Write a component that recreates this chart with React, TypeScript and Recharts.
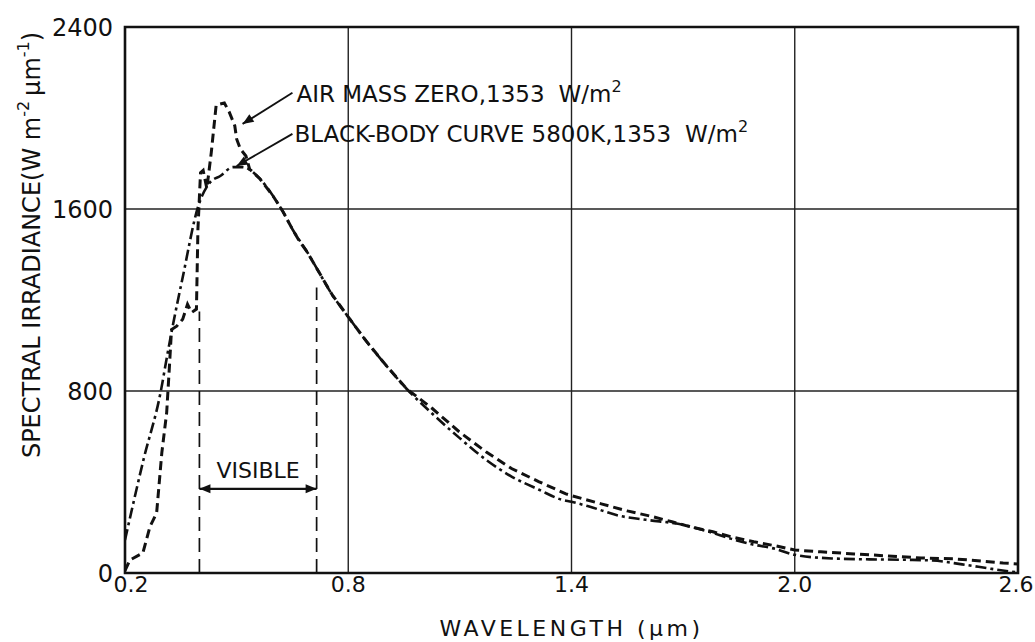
import React from 'react'
import {
  LineChart,
  Line,
  XAxis,
  YAxis,
  CartesianGrid,
  ReferenceLine,
  ReferenceDot,
  ReferenceArea,
  Label
} from 'recharts'

const xTicks = [0.2, 0.8, 1.4, 2.0, 2.6]
const yTicks = [0, 800, 1600, 2400]

// air mass zero spectrum (dashed)
const airMassWave = [
  0.2, 0.213, 0.248, 0.267, 0.285, 0.299, 0.312, 0.32, 0.325, 0.339, 0.355, 0.368,
  0.379, 0.392, 0.396, 0.403, 0.41, 0.42, 0.432, 0.445, 0.467, 0.48, 0.495, 0.5,
  0.51, 0.525, 0.535, 0.563, 0.598, 0.625, 0.65, 0.669, 0.69, 0.715, 0.758, 0.803,
  0.849, 0.902, 0.956, 1.026, 1.098, 1.17, 1.24, 1.313, 1.385, 1.4, 1.48, 1.55,
  1.62, 1.67, 1.72, 1.78, 1.83, 1.89, 1.95, 2.0, 2.07, 2.16, 2.25, 2.34, 2.43, 2.5,
  2.56, 2.6
]
const airMassIrr = [
  10, 57, 88, 203, 264, 529, 705, 925, 1070, 1085, 1115, 1181,
  1145, 1160, 1511, 1760, 1770, 1690, 1850, 2057, 2066, 2027, 1966, 1908,
  1864, 1833, 1775, 1732, 1657, 1587, 1511, 1458, 1410, 1340, 1220, 1119,
  1018, 912, 811, 723, 621, 533, 458, 401, 348, 340, 304, 273,
  247, 225, 203, 181, 159, 137, 119, 101, 93, 84, 75, 66, 62, 53,
  44, 40
]

// black-body 5800K (dash-dot)
const blackBodyWave = [
  0.2, 0.25, 0.296, 0.313, 0.33, 0.354, 0.397, 0.429, 0.456, 0.49, 0.515, 0.563,
  0.598, 0.625, 0.65, 0.69, 0.715, 0.758, 0.803, 0.849, 0.902, 0.956, 1.026, 1.098,
  1.17, 1.24, 1.313, 1.374, 1.4, 1.45, 1.53, 1.6, 1.7, 1.77, 1.83, 1.88, 1.95, 2.0,
  2.1, 2.2, 2.3, 2.37, 2.45, 2.53, 2.6
]
const blackBodyIrr = [
  145, 500, 797, 952, 1100, 1291, 1613, 1718, 1745, 1784, 1784, 1732,
  1657, 1587, 1511, 1410, 1340, 1220, 1119, 1018, 912, 811, 700, 595,
  498, 423, 366, 322, 313, 291, 251, 234, 212, 181, 150, 128, 105, 80,
  64, 60, 58, 55, 38, 18, 2
]

const visibleEdges = [0.4, 0.715]
const visibleTops = [1150, 1255]
const visibleLevel = 370

const amLeader = [{ x: 0.65, y: 2111 }, { x: 0.516, y: 1974 }]
const bbLeader = [{ x: 0.65, y: 1930 }, { x: 0.5, y: 1789 }]

const airMassData = airMassWave.map((x, i) => ({ x, y: airMassIrr[i] }))
const blackBodyData = blackBodyWave.map((x, i) => ({ x, y: blackBodyIrr[i] }))

const FONT = '"DejaVu Sans", sans-serif'
const INK = '#111'

const arrowhead = (angle: number) => (p: any) => (
  <path
    d="M0,0 L-11,-4.5 L-11,4.5 Z"
    transform={`translate(${p.cx},${p.cy}) rotate(${angle})`}
    fill={INK}
  />
)

const amText = (p: any) => (
  <text x={p.cx + 4} y={p.cy + 9} fontFamily={FONT} fontSize={23} fill={INK}>
    AIR MASS ZERO,1353
    <tspan dx={14}>W/m</tspan>
    <tspan dy={-10} fontSize={16}>2</tspan>
  </text>
)

const bbText = (p: any) => (
  <text x={p.cx + 2} y={p.cy + 8} fontFamily={FONT} fontSize={23} fill={INK}>
    BLACK-BODY CURVE 5800K,1353
    <tspan dx={14}>W/m</tspan>
    <tspan dy={-10} fontSize={16}>2</tspan>
  </text>
)

const visibleText = (p: any) => (
  <text x={p.cx} y={p.cy - 11} textAnchor="middle" fontFamily={FONT} fontSize={22} fill={INK}>
    VISIBLE
  </text>
)

const xTick = (p: any) => {
  const v = p.payload.value
  const shift = v === xTicks[0] ? 6 : v === xTicks[xTicks.length - 1] ? -2 : 0
  return (
    <text
      x={p.x + shift}
      y={p.y}
      dy={19}
      textAnchor="middle"
      fontFamily={FONT}
      fontSize={22}
      fill={INK}
    >
      {v.toFixed(1)}
    </text>
  )
}

const yLabel = (props: any) => {
  const vb = props.viewBox || { x: 65, y: 27, width: 60, height: 546 }
  const cx = vb.x - 33
  const cy = vb.y + vb.height / 2 - 55
  return (
    <text
      x={cx}
      y={cy}
      transform={`rotate(-90, ${cx}, ${cy})`}
      textAnchor="middle"
      dominantBaseline="central"
      fontFamily={FONT}
      fontSize={24}
      fill={INK}
    >
      SPECTRAL IRRADIANCE(W m<tspan dy={-9} fontSize={16}>-2</tspan>
      <tspan dy={9} dx={5}>µm</tspan>
      <tspan dy={-9} fontSize={16}>-1</tspan>
      <tspan dy={9}>)</tspan>
    </text>
  )
}

const App = () => {
  return (
    <div style={{ position: 'absolute', left: 0, top: 0, background: '#fff' }}>
      <LineChart
        width={1035}
        height={642}
        margin={{ top: 27, right: 17, bottom: 9, left: 65 }}
        style={{ fontFamily: FONT }}
      >
        <CartesianGrid stroke="#222" strokeWidth={1.4} />
        <XAxis
          dataKey="x"
          type="number"
          domain={[0.2, 2.6]}
          ticks={xTicks}
          axisLine={false}
          tickLine={false}
          tickSize={0}
          tickMargin={0}
          height={60}
          tick={xTick}
          allowDataOverflow
        >
          <Label
            value="WAVELENGTH (µm)"
            position="insideBottom"
            offset={-3}
            style={{ fill: INK, fontSize: 22, fontFamily: FONT, letterSpacing: 3.5 }}
          />
        </XAxis>
        <YAxis
          type="number"
          domain={[0, 2400]}
          ticks={yTicks}
          axisLine={false}
          tickLine={false}
          tickSize={0}
          tickMargin={12}
          width={60}
          tick={{ fill: INK, fontSize: 24, fontFamily: FONT }}
          allowDataOverflow
        >
          <Label content={yLabel} />
        </YAxis>
        <ReferenceArea
          x1={0.2}
          x2={2.6}
          y1={0}
          y2={2400}
          fill="none"
          stroke={INK}
          strokeWidth={2.6}
        />
        {visibleEdges.map((x, i) => (
          <ReferenceLine
            key={x}
            segment={[{ x, y: 0 }, { x, y: visibleTops[i] }]}
            stroke={INK}
            strokeWidth={1.7}
            strokeDasharray="14 7"
          />
        ))}
        <ReferenceLine
          segment={[
            { x: visibleEdges[0], y: visibleLevel },
            { x: visibleEdges[1], y: visibleLevel }
          ]}
          stroke={INK}
          strokeWidth={2.2}
        />
        <ReferenceDot x={visibleEdges[0]} y={visibleLevel} r={1} shape={arrowhead(180)} />
        <ReferenceDot x={visibleEdges[1]} y={visibleLevel} r={1} shape={arrowhead(0)} />
        <ReferenceDot
          x={(visibleEdges[0] + visibleEdges[1]) / 2}
          y={visibleLevel}
          r={1}
          shape={visibleText}
        />
        <Line
          data={blackBodyData}
          dataKey="y"
          type="monotone"
          stroke={INK}
          strokeWidth={2.6}
          strokeDasharray="11 4 3 4"
          dot={false}
          isAnimationActive={false}
        />
        <Line
          data={airMassData}
          dataKey="y"
          type="linear"
          stroke={INK}
          strokeWidth={3}
          strokeDasharray="9 5"
          dot={false}
          isAnimationActive={false}
        />
        <ReferenceLine segment={amLeader} stroke={INK} strokeWidth={1.9} />
        <ReferenceLine segment={bbLeader} stroke={INK} strokeWidth={1.9} />
        <ReferenceDot x={amLeader[1].x} y={amLeader[1].y} r={1} shape={arrowhead(147)} />
        <ReferenceDot x={bbLeader[1].x} y={bbLeader[1].y} r={1} shape={arrowhead(150)} />
        <ReferenceDot x={amLeader[0].x} y={amLeader[0].y} r={1} shape={amText} />
        <ReferenceDot x={bbLeader[0].x} y={bbLeader[0].y} r={1} shape={bbText} />
      </LineChart>
    </div>
  )
}

export default App
